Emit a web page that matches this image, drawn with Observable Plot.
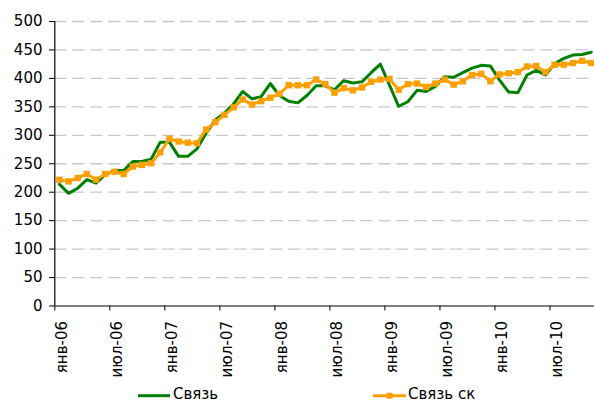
<!DOCTYPE html>
<html>
<head>
<meta charset="utf-8">
<script src="https://cdn.jsdelivr.net/npm/d3@7"></script>
<script src="https://cdn.jsdelivr.net/npm/@observablehq/plot@0.6"></script>
<style>
  html, body { margin: 0; padding: 0; background: #fff; }
  #wrap { width: 594px; height: 403px; position: relative; font-family: "DejaVu Sans", Verdana, sans-serif; }
  #chart svg text { font-size: 15px !important; font-family: "DejaVu Sans", Verdana, sans-serif !important; }
  #legend { position: absolute; left: 0; top: 383px; width: 594px; height: 20px; font-size: 15px; color: #000; }
</style>
</head>
<body>
<div id="wrap">
  <div id="chart"></div>
  <div id="legend"></div>
</div>
<script>
// Series names
const seriesNames = ["Связь", "Связь ск"];
// Months: янв-06 .. ноя-10 (59 months)
const monthNames = ["янв","фев","мар","апр","май","июн","июл","авг","сен","окт","ноя","дек"];
const months = [];
for (let y = 6; y <= 10; y++) for (let m = 0; m < 12; m++) {
  if (months.length < 59) months.push(monthNames[m] + "-" + String(y).padStart(2, "0"));
}
// Series values
const svyaz = [214,198,207,222,216,231,238,238,254,254,258,288,
               288,263,263,276,304,327,339,355,377,364,368,391,
               370,360,357,370,387,387,380,396,392,394,410,425,
               388,351,359,379,377,386,403,402,410,418,423,422,
               397,376,375,406,414,406,426,435,441,442,446];
const svyazSk = [222,219,225,232,222,232,236,232,245,248,251,270,
                 294,289,287,286,310,323,336,349,363,354,360,366,
                 373,388,388,388,398,390,375,383,379,384,394,398,
                 399,380,390,391,385,391,398,389,395,406,408,395,
                 407,409,411,421,422,411,424,424,427,431,427];
// Tick labels
const yTicks = [0,50,100,150,200,250,300,350,400,450,500];
const xTickLabels = ["янв-06","июл-06","янв-07","июл-07","янв-08","июл-08","янв-09","июл-09","янв-10","июл-10"];

const colors = ["#008000", "#ffa000"];

const dataG = svyaz.map((v, i) => ({i: i + 0.5, v, m: months[i]}));
const dataO = svyazSk.map((v, i) => ({i: i + 0.5, v, m: months[i]}));
const labelData = xTickLabels.map(t => ({t, i: months.indexOf(t)}));

const chart = Plot.plot({
  width: 594,
  height: 383,
  marginLeft: 54,
  marginRight: 0,
  marginTop: 21,
  marginBottom: 77.5,
  style: {fontFamily: "DejaVu Sans, Verdana, sans-serif", fontSize: "15px", color: "#000", background: "#fff"},
  x: {type: "linear", domain: [0, months.length], range: [54.3, 54.3 + 9.17 * months.length], axis: null},
  y: {domain: [0, 500], range: [305.5, 21], axis: null},
  marks: [
    Plot.ruleY(yTicks.filter(d => d > 0), {x1: 0, x2: months.length, stroke: "#c8c8c8", strokeWidth: 1.3, strokeDasharray: "12,6"}),
    Plot.axisY({ticks: yTicks, tickSize: 5, tickPadding: 7, tickFormat: d => d, label: null, stroke: "#000"}),
    Plot.axisX({ticks: labelData.map(d => d.i), tickSize: 5, tickFormat: () => "", label: null, stroke: "#000"}),
    Plot.ruleX([0], {y1: 0, y2: 500, stroke: "#000", strokeWidth: 1.2}),
    Plot.ruleY([0], {x1: 0, x2: months.length, stroke: "#000", strokeWidth: 1.2}),
    Plot.text(labelData, {x: d => d.i + 0.5, y: 0, text: "t", rotate: -90, textAnchor: "end", dy: 15, dx: 2.5, fill: "#000"}),
    Plot.line(dataG, {x: "i", y: "v", stroke: colors[0], strokeWidth: 3}),
    Plot.line(dataO, {x: "i", y: "v", stroke: colors[1], strokeWidth: 3}),
    Plot.dot(dataO, {x: "i", y: "v", symbol: "square", r: 3.6, fill: colors[1], stroke: "none"})
  ]
});
document.getElementById("chart").appendChild(chart);

// Legend
const legend = document.getElementById("legend");
const items = [
  {name: seriesNames[0], color: colors[0], x1: 138, x2: 170, tx: 173, marker: false},
  {name: seriesNames[1], color: colors[1], x1: 373, x2: 406, tx: 408, marker: true}
];
for (const it of items) {
  const svg = d3.create("svg").attr("width", it.x2 - it.x1).attr("height", 20)
    .style("position", "absolute").style("left", it.x1 + "px").style("top", "0px");
  svg.append("line").attr("x1", 0).attr("x2", it.x2 - it.x1).attr("y1", 12.7).attr("y2", 12.7)
    .attr("stroke", it.color).attr("stroke-width", 3);
  if (it.marker) {
    const c = (it.x2 - it.x1) / 2;
    svg.append("rect").attr("x", c - 3).attr("y", 9.7).attr("width", 6).attr("height", 6).attr("fill", it.color);
  }
  legend.appendChild(svg.node());
  const s = document.createElement("span");
  s.textContent = it.name;
  s.style.left = it.tx + "px";
  s.style.position = "absolute";
  s.style.top = "2px";
  s.style.whiteSpace = "nowrap";
  legend.appendChild(s);
}
</script>
</body>
</html>
